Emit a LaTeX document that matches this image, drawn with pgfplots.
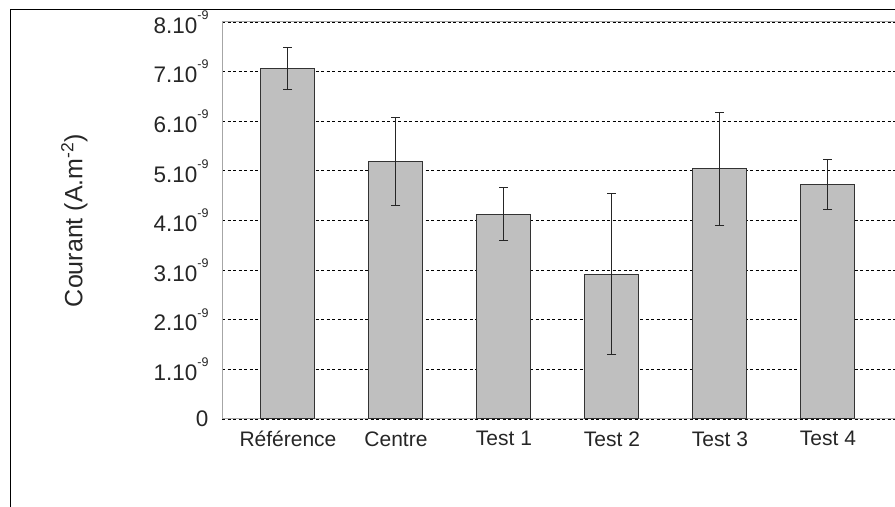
\documentclass[border=0pt]{standalone}
\usepackage{pgfplots}
\pgfplotsset{compat=1.18}
\usepackage{fontspec}
\setmainfont{Liberation Sans}
\newcommand{\mysup}[1]{\raisebox{0.62em}{\fontsize{12.5bp}{13bp}\selectfont #1}}
\begin{document}
\begin{tikzpicture}
\useasboundingbox (0,0) rectangle (895bp,507bp);
\clip (0,0) rectangle (895bp,507bp);
\draw[black, line width=1bp] (10bp,-20bp) rectangle (1000bp,497bp);
\begin{axis}[at={(222bp,88bp)}, anchor=south west, scale only axis,
  width=674bp, height=397bp,
  xmin=-0.611, xmax=5.63, ymin=0, ymax=8,
  ybar, bar width=54bp,
  xtick={0,...,5},
  xticklabels={Référence,Centre,Test 1,Test 2,Test 3,Test 4},
  ytick={0,...,8},
  yticklabels={0,1.10\mysup{-9},2.10\mysup{-9},3.10\mysup{-9},4.10\mysup{-9},5.10\mysup{-9},6.10\mysup{-9},7.10\mysup{-9},8.10\mysup{-9}},
  ymajorgrids,
  major grid style={black, dash pattern=on 3bp off 2.5bp, line width=0.8bp},
  major tick length=0,
  axis line style={gray!70, line width=1bp},
  xticklabel style={font=\fontsize{21bp}{25bp}\selectfont, text=black!85, yshift=-9bp},
  yticklabel style={font=\fontsize{22.5bp}{26bp}\selectfont, text=black!85, xshift=-10bp},
  ylabel={Courant (A.m\textsuperscript{-2})},
  ylabel style={at={(axis description cs:-0.219,0.5)}, anchor=center, font=\fontsize{25bp}{29bp}\selectfont, text=black!85},
]
\addplot[fill=black!25, draw=black!80, line width=1bp,
  error bars/.cd, y dir=both, y explicit,
  error bar style={black!85, line width=1bp},
  error mark options={rotate=90, mark size=4.5bp, line width=1bp, black!85}]
  table[x=x, y=y, y error=e] {
x y e
0 7.06 0.43
1 5.19 0.88
2 4.13 0.54
3 2.92 1.63
4 5.04 1.14
5 4.72 0.50
};
\end{axis}
\end{tikzpicture}
\end{document}
